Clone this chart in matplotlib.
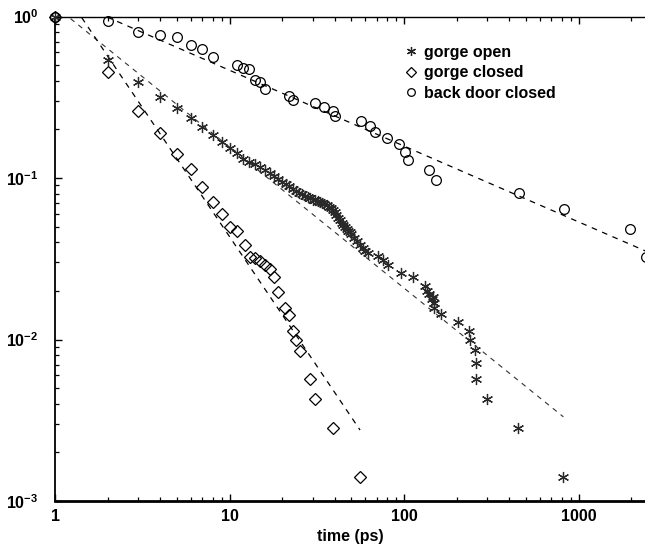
import matplotlib
matplotlib.use("Agg")
import matplotlib.pyplot as plt
from matplotlib import font_manager
from matplotlib.lines import Line2D

# ---------------- data ----------------
open_t = [1, 2, 3, 4, 5, 6, 7, 8, 9, 10, 11, 12, 13,
          14, 15, 16, 17, 18, 19, 20, 21, 22, 23, 24, 25, 26, 27, 28, 29, 30,
          31, 32, 33, 34, 35, 36, 37, 38, 39, 40, 41, 42, 43, 44, 45, 46, 47,
          48, 49, 50, 52, 54, 56, 58, 60, 62,
          71, 76, 81, 96, 113, 132, 136, 140, 144, 146, 149, 149.5, 163,
          205, 237, 239, 255, 259, 260, 298, 448, 819]
open_p = [1.0, 0.54, 0.395, 0.316, 0.270, 0.236, 0.208, 0.185, 0.168, 0.153, 0.142, 0.1305, 0.1265,
          0.122, 0.117, 0.112, 0.1074, 0.1032, 0.099, 0.0951, 0.0918, 0.0886, 0.0857, 0.0831, 0.081, 0.0793, 0.0777, 0.0762, 0.0748, 0.0735,
          0.0726, 0.0717, 0.0708, 0.070, 0.069, 0.0677, 0.0663, 0.0649, 0.0636, 0.0619, 0.0594, 0.0569, 0.0547, 0.0526, 0.0512, 0.0497, 0.0485,
          0.0473, 0.0461, 0.0447, 0.0425, 0.0408, 0.0387, 0.0371, 0.0353, 0.0341,
          0.0329, 0.031, 0.0289, 0.0257, 0.0243, 0.0214, 0.0201, 0.0192, 0.0178, 0.0184, 0.0169, 0.0156, 0.0143,
          0.0128, 0.0113, 0.0100, 0.0086, 0.00713, 0.00569, 0.00427, 0.00284, 0.00141]

closed_t = [1, 2, 3, 4, 5, 6, 7, 8, 9, 10, 11, 12.3, 13.1, 14, 15, 16, 17, 18, 19,
            20.8, 21.8, 23, 24.2, 25.2, 29, 31, 39, 56]
closed_p = [1.0, 0.451, 0.261, 0.189, 0.1414, 0.113, 0.0883, 0.0713, 0.0596, 0.050, 0.047, 0.0385, 0.0326, 0.0318, 0.0306, 0.0289, 0.0272, 0.0245, 0.0198,
            0.0156, 0.0142, 0.0113, 0.00993, 0.0085, 0.00567, 0.00427, 0.00284, 0.00141]

back_t = [1, 2, 3, 4, 5, 6, 7, 8, 11, 12, 13, 14, 15, 16, 22, 23, 31, 35, 39, 40,
          57, 64, 68, 80, 94, 101, 106, 139, 153, 458, 822, 1964, 2450]
back_p = [1.0, 0.94, 0.805, 0.771, 0.746, 0.667, 0.629, 0.564, 0.503, 0.482, 0.471, 0.404, 0.395, 0.356, 0.323, 0.305, 0.29, 0.276, 0.26, 0.241,
          0.226, 0.211, 0.194, 0.178, 0.162, 0.145, 0.129, 0.112, 0.0968, 0.0804, 0.0643, 0.0481, 0.0324]

# power-law fit lines (endpoints, straight on log-log axes)
fit_open_t = [1, 819]
fit_open_p = [1.16, 0.00332]
fit_closed_t = [1, 56]
fit_closed_p = [1.73, 0.00275]
fit_back_t = [1, 2500]
fit_back_p = [1.37, 0.0348]

labels = ["gorge open", "gorge closed", "back door closed"]
xticks = [1, 10, 100, 1000]
xticklabels = ["1", "10", "100", "1000"]
yticks = [1e-3, 1e-2, 1e-1, 1]
yticklabels = [r"$\mathbf{10^{-3}}$", r"$\mathbf{10^{-2}}$", r"$\mathbf{10^{-1}}$", r"$\mathbf{10^{0}}$"]

# ---------------- style ----------------
avail = {f.name for f in font_manager.fontManager.ttflist}
fam = "Liberation Sans" if "Liberation Sans" in avail else "DejaVu Sans"
plt.rcParams["font.family"] = [fam, "DejaVu Sans"]
plt.rcParams["mathtext.fontset"] = "custom"
plt.rcParams["mathtext.rm"] = fam
plt.rcParams["mathtext.bf"] = fam + ":bold"
plt.rcParams["font.weight"] = "bold"

W, H = 645, 552
fig = plt.figure(figsize=(W / 100, H / 100), dpi=100)
ax = fig.add_axes([55 / W, 1 - 501 / H, (645 - 55) / W, (501 - 16.5) / H])
ax.set_xscale("log")
ax.set_yscale("log")
ax.set_xlim(1, 10 ** ((645 - 55) / 174.5))
ax.set_ylim(1e-3, 1)

dash = (0, (4.5, 4.5))
ax.plot(fit_back_t, fit_back_p, color="black", lw=0.9, linestyle=dash)
ax.plot(fit_open_t, fit_open_p, color="#333333", lw=0.8, linestyle=dash)
ax.plot(fit_closed_t, fit_closed_p, color="black", lw=0.9, linestyle=dash)

ast = (6, 2, 0)
ax.plot(open_t, open_p, linestyle="none", marker=ast, ms=8, mew=0.9,
        color="#2a2a2a", clip_on=False, zorder=3)
ax.plot(closed_t, closed_p, linestyle="none", marker="D", ms=6.2, mew=0.9,
        mfc="none", mec="black", clip_on=False, zorder=3)
ax.plot(back_t, back_p, linestyle="none", marker="o", ms=7, mew=0.9,
        mfc="none", mec="black", clip_on=False, zorder=3)

handles = [
    Line2D([], [], linestyle="none", marker=ast, ms=6.5, mew=0.9, color="#222222"),
    Line2D([], [], linestyle="none", marker="D", ms=5, mew=0.9, mfc="none", mec="black"),
    Line2D([], [], linestyle="none", marker="o", ms=5.5, mew=0.9, mfc="none", mec="black"),
]
ax.legend(handles, labels, loc="upper left", bbox_to_anchor=(345 / 590, 1 - 22 / 484.5),
          frameon=False, handlelength=0.6, handletextpad=0.5,
          labelspacing=0.35, borderaxespad=0, prop={"weight": "bold", "size": 11.5})

ax.set_xticks(xticks)
ax.set_xticklabels(xticklabels)
ax.set_yticks(yticks)
ax.set_yticklabels(yticklabels)
ax.tick_params(which="both", direction="in", top=True, right=False, labelsize=11.5)
ax.tick_params(which="major", length=5, width=1)
ax.tick_params(which="minor", length=3, width=0.9)
ax.tick_params(axis="x", which="major", pad=5.5)
ax.tick_params(axis="y", which="major", pad=12)
for lab in ax.get_xticklabels():
    lab.set_fontweight("bold")

ax.spines["right"].set_visible(False)
ax.spines["bottom"].set_linewidth(2)
ax.spines["left"].set_linewidth(1.3)
ax.spines["top"].set_linewidth(1)

ax.set_xlabel("time (ps)", fontsize=11.5, fontweight="bold", labelpad=4)

fig.savefig("out.png", dpi=100)
